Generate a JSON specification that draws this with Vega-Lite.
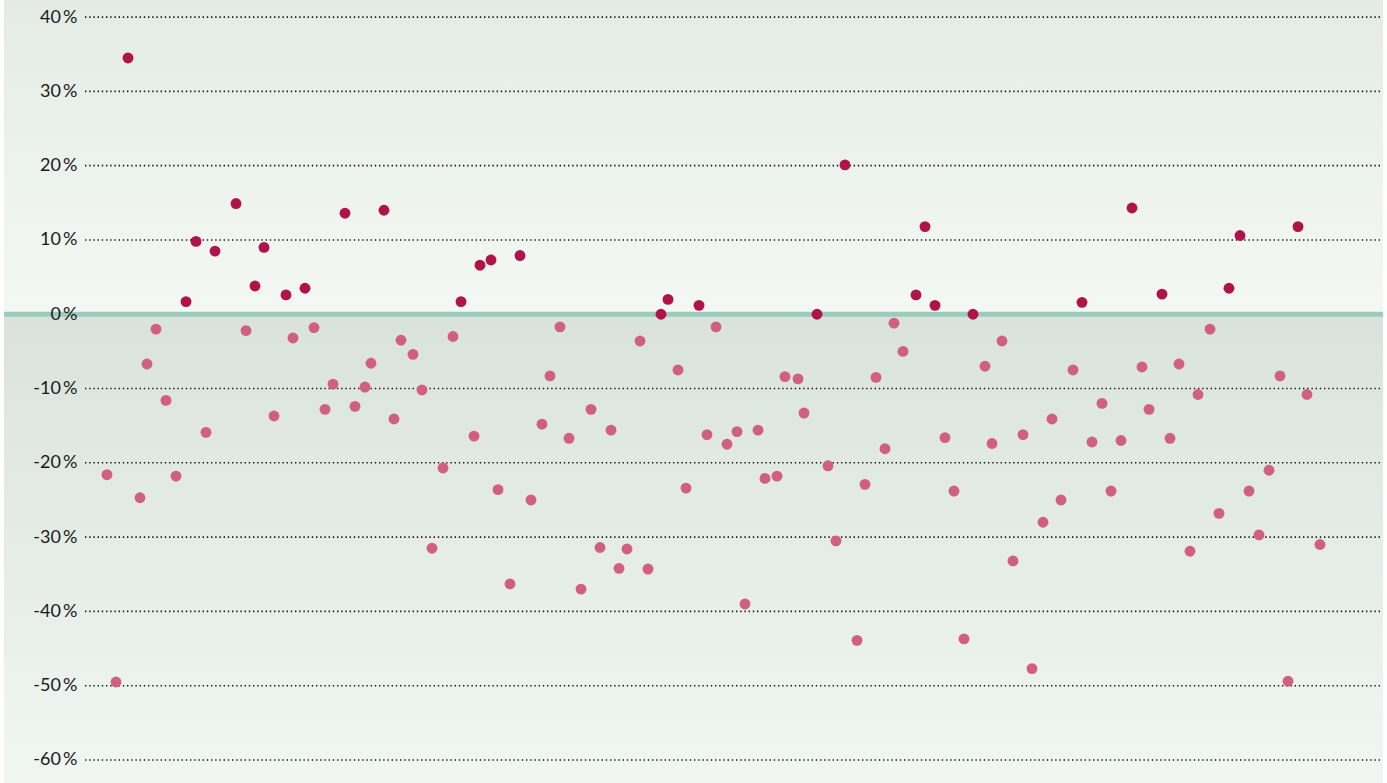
{
  "$schema": "https://vega.github.io/schema/vega-lite/v6.json",
  "autosize": "none",
  "width": 1379,
  "height": 783,
  "padding": {"left": 4, "right": 4, "top": 0, "bottom": 0},
  "background": "#ffffff",
  "config": {"view": {"stroke": null}},
  "datasets": {
    "bands": [
      {"band": "above", "lo": 0, "hi": 42.3},
      {"band": "below", "lo": -63.1, "hi": 0}
    ],
    "grid": [
      {"g": -60}, {"g": -50}, {"g": -40}, {"g": -30}, {"g": -20},
      {"g": -10}, {"g": 10}, {"g": 20}, {"g": 30}, {"g": 40}
    ],
    "points": [
      {"t": 10.3, "v": -21.6}, {"t": 11.2, "v": -49.5}, {"t": 12.4, "v": 34.5}, {"t": 13.6, "v": -24.7},
      {"t": 14.3, "v": -6.7}, {"t": 15.2, "v": -2.0}, {"t": 16.2, "v": -11.6}, {"t": 17.2, "v": -21.8},
      {"t": 18.2, "v": 1.7}, {"t": 19.2, "v": 9.8}, {"t": 20.2, "v": -15.9}, {"t": 21.1, "v": 8.5},
      {"t": 23.2, "v": 14.9}, {"t": 24.2, "v": -2.2}, {"t": 25.1, "v": 3.8}, {"t": 26.0, "v": 9.0},
      {"t": 27.0, "v": -13.7}, {"t": 28.2, "v": 2.6}, {"t": 28.9, "v": -3.2}, {"t": 30.1, "v": 3.5},
      {"t": 31.0, "v": -1.8}, {"t": 32.1, "v": -12.8}, {"t": 32.9, "v": -9.4}, {"t": 34.1, "v": 13.6},
      {"t": 35.1, "v": -12.4}, {"t": 36.1, "v": -9.8}, {"t": 36.7, "v": -6.6}, {"t": 38.0, "v": 14.0},
      {"t": 39.0, "v": -14.1}, {"t": 39.7, "v": -3.5}, {"t": 40.9, "v": -5.4}, {"t": 41.8, "v": -10.2},
      {"t": 42.8, "v": -31.5}, {"t": 43.9, "v": -20.7}, {"t": 44.9, "v": -3.0}, {"t": 45.7, "v": 1.7},
      {"t": 47.0, "v": -16.4}, {"t": 47.6, "v": 6.6}, {"t": 48.7, "v": 7.3}, {"t": 49.4, "v": -23.6},
      {"t": 50.6, "v": -36.3}, {"t": 51.6, "v": 7.9}, {"t": 52.7, "v": -25.0}, {"t": 53.8, "v": -14.8},
      {"t": 54.6, "v": -8.3}, {"t": 55.6, "v": -1.7}, {"t": 56.5, "v": -16.7}, {"t": 57.7, "v": -37.0},
      {"t": 58.7, "v": -12.8}, {"t": 59.6, "v": -31.4}, {"t": 60.7, "v": -15.6}, {"t": 61.5, "v": -34.2},
      {"t": 62.3, "v": -31.6}, {"t": 63.6, "v": -3.6}, {"t": 64.4, "v": -34.3}, {"t": 65.7, "v": 0.0},
      {"t": 66.4, "v": 2.0}, {"t": 67.4, "v": -7.5}, {"t": 68.2, "v": -23.4}, {"t": 69.5, "v": 1.2},
      {"t": 70.3, "v": -16.2}, {"t": 71.2, "v": -1.7}, {"t": 72.3, "v": -17.5}, {"t": 73.3, "v": -15.8},
      {"t": 74.1, "v": -39.0}, {"t": 75.4, "v": -15.6}, {"t": 76.1, "v": -22.1}, {"t": 77.3, "v": -21.8},
      {"t": 78.1, "v": -8.4}, {"t": 79.4, "v": -8.7}, {"t": 80.0, "v": -13.3}, {"t": 81.3, "v": 0.0},
      {"t": 82.4, "v": -20.4}, {"t": 83.2, "v": -30.5}, {"t": 84.1, "v": 20.1}, {"t": 85.3, "v": -43.9},
      {"t": 86.1, "v": -22.9}, {"t": 87.2, "v": -8.5}, {"t": 88.1, "v": -18.1}, {"t": 89.0, "v": -1.2},
      {"t": 89.9, "v": -5.0}, {"t": 91.2, "v": 2.6}, {"t": 92.1, "v": 11.8}, {"t": 93.1, "v": 1.2},
      {"t": 94.1, "v": -16.6}, {"t": 95.0, "v": -23.8}, {"t": 96.0, "v": -43.7}, {"t": 96.9, "v": 0.0},
      {"t": 98.1, "v": -7.0}, {"t": 98.8, "v": -17.4}, {"t": 99.8, "v": -3.6}, {"t": 100.9, "v": -33.2},
      {"t": 101.9, "v": -16.2}, {"t": 102.8, "v": -47.7}, {"t": 103.9, "v": -28.0}, {"t": 104.8, "v": -14.1},
      {"t": 105.7, "v": -25.0}, {"t": 106.9, "v": -7.5}, {"t": 107.8, "v": 1.6}, {"t": 108.8, "v": -17.2},
      {"t": 109.8, "v": -12.0}, {"t": 110.7, "v": -23.8}, {"t": 111.7, "v": -17.0}, {"t": 112.8, "v": 14.3},
      {"t": 113.8, "v": -7.1}, {"t": 114.5, "v": -12.8}, {"t": 115.8, "v": 2.7}, {"t": 116.6, "v": -16.7},
      {"t": 117.5, "v": -6.7}, {"t": 118.6, "v": -31.9}, {"t": 119.4, "v": -10.8}, {"t": 120.6, "v": -2.0},
      {"t": 121.5, "v": -26.8}, {"t": 122.5, "v": 3.5}, {"t": 123.6, "v": 10.6}, {"t": 124.5, "v": -23.8},
      {"t": 125.5, "v": -29.7}, {"t": 126.5, "v": -21.0}, {"t": 127.6, "v": -8.3}, {"t": 128.4, "v": -49.4},
      {"t": 129.4, "v": 11.8}, {"t": 130.3, "v": -10.8}, {"t": 131.6, "v": -31.0}
    ]
  },
  "resolve": {"scale": {"y": "shared", "x": "shared"}},
  "layer": [
    {
      "data": {"name": "bands"},
      "transform": [{"filter": "datum.band === 'above'"}],
      "mark": {
        "type": "rect",
        "color": {
          "gradient": "linear", "x1": 0, "y1": 0, "x2": 0, "y2": 1,
          "stops": [{"offset": 0, "color": "#e4ebe5"}, {"offset": 1, "color": "#f4f8f4"}]
        }
      },
      "encoding": {
        "x": {"value": 0},
        "x2": {"value": "width"},
        "y": {"field": "hi", "type": "quantitative", "scale": {"domain": [-63.1, 42.3], "nice": false, "zero": false},
              "axis": {"orient": "left", "offset": -73, "values": [-60, -50, -40, -30, -20, -10, 0, 10, 20, 30, 40],
                       "labelExpr": "datum.value + '\u2009%'", "labelFont": "Lato", "labelFontSize": 18,
                       "labelColor": "#1a1a1a", "labelPadding": 0, "ticks": false, "domain": false, "grid": false,
                       "title": null, "labelBaseline": "middle", "zindex": 2}},
        "y2": {"field": "lo"}
      }
    },
    {
      "data": {"name": "bands"},
      "transform": [{"filter": "datum.band === 'below'"}],
      "mark": {
        "type": "rect",
        "color": {
          "gradient": "linear", "x1": 0, "y1": 0, "x2": 0, "y2": 1,
          "stops": [{"offset": 0, "color": "#d9e3db"}, {"offset": 1, "color": "#f1f6f2"}]
        }
      },
      "encoding": {
        "x": {"value": 0},
        "x2": {"value": "width"},
        "y": {"field": "hi", "type": "quantitative"},
        "y2": {"field": "lo"}
      }
    },
    {
      "data": {"name": "grid"},
      "mark": {"type": "rule", "color": "#1a1a1a", "strokeWidth": 1.6, "strokeDash": [1.4, 2.8]},
      "encoding": {
        "y": {"field": "g", "type": "quantitative"},
        "x": {"datum": 8.1, "type": "quantitative", "scale": {"domain": [0, 137.9], "nice": false, "zero": false}, "axis": null},
        "x2": {"datum": 137.6}
      }
    },
    {
      "data": {"values": [{"z": 0}]},
      "mark": {"type": "rule", "color": "#9dcbbd", "strokeWidth": 5},
      "encoding": {
        "y": {"field": "z", "type": "quantitative"}
      }
    },
    {
      "data": {"name": "points"},
      "mark": {"type": "circle", "size": 118, "opacity": 1},
      "encoding": {
        "x": {"field": "t", "type": "quantitative"},
        "y": {"field": "v", "type": "quantitative"},
        "color": {"condition": {"test": "datum.v >= 0", "value": "#b0134a"}, "value": "#d15f81"}
      }
    }
  ]
}
